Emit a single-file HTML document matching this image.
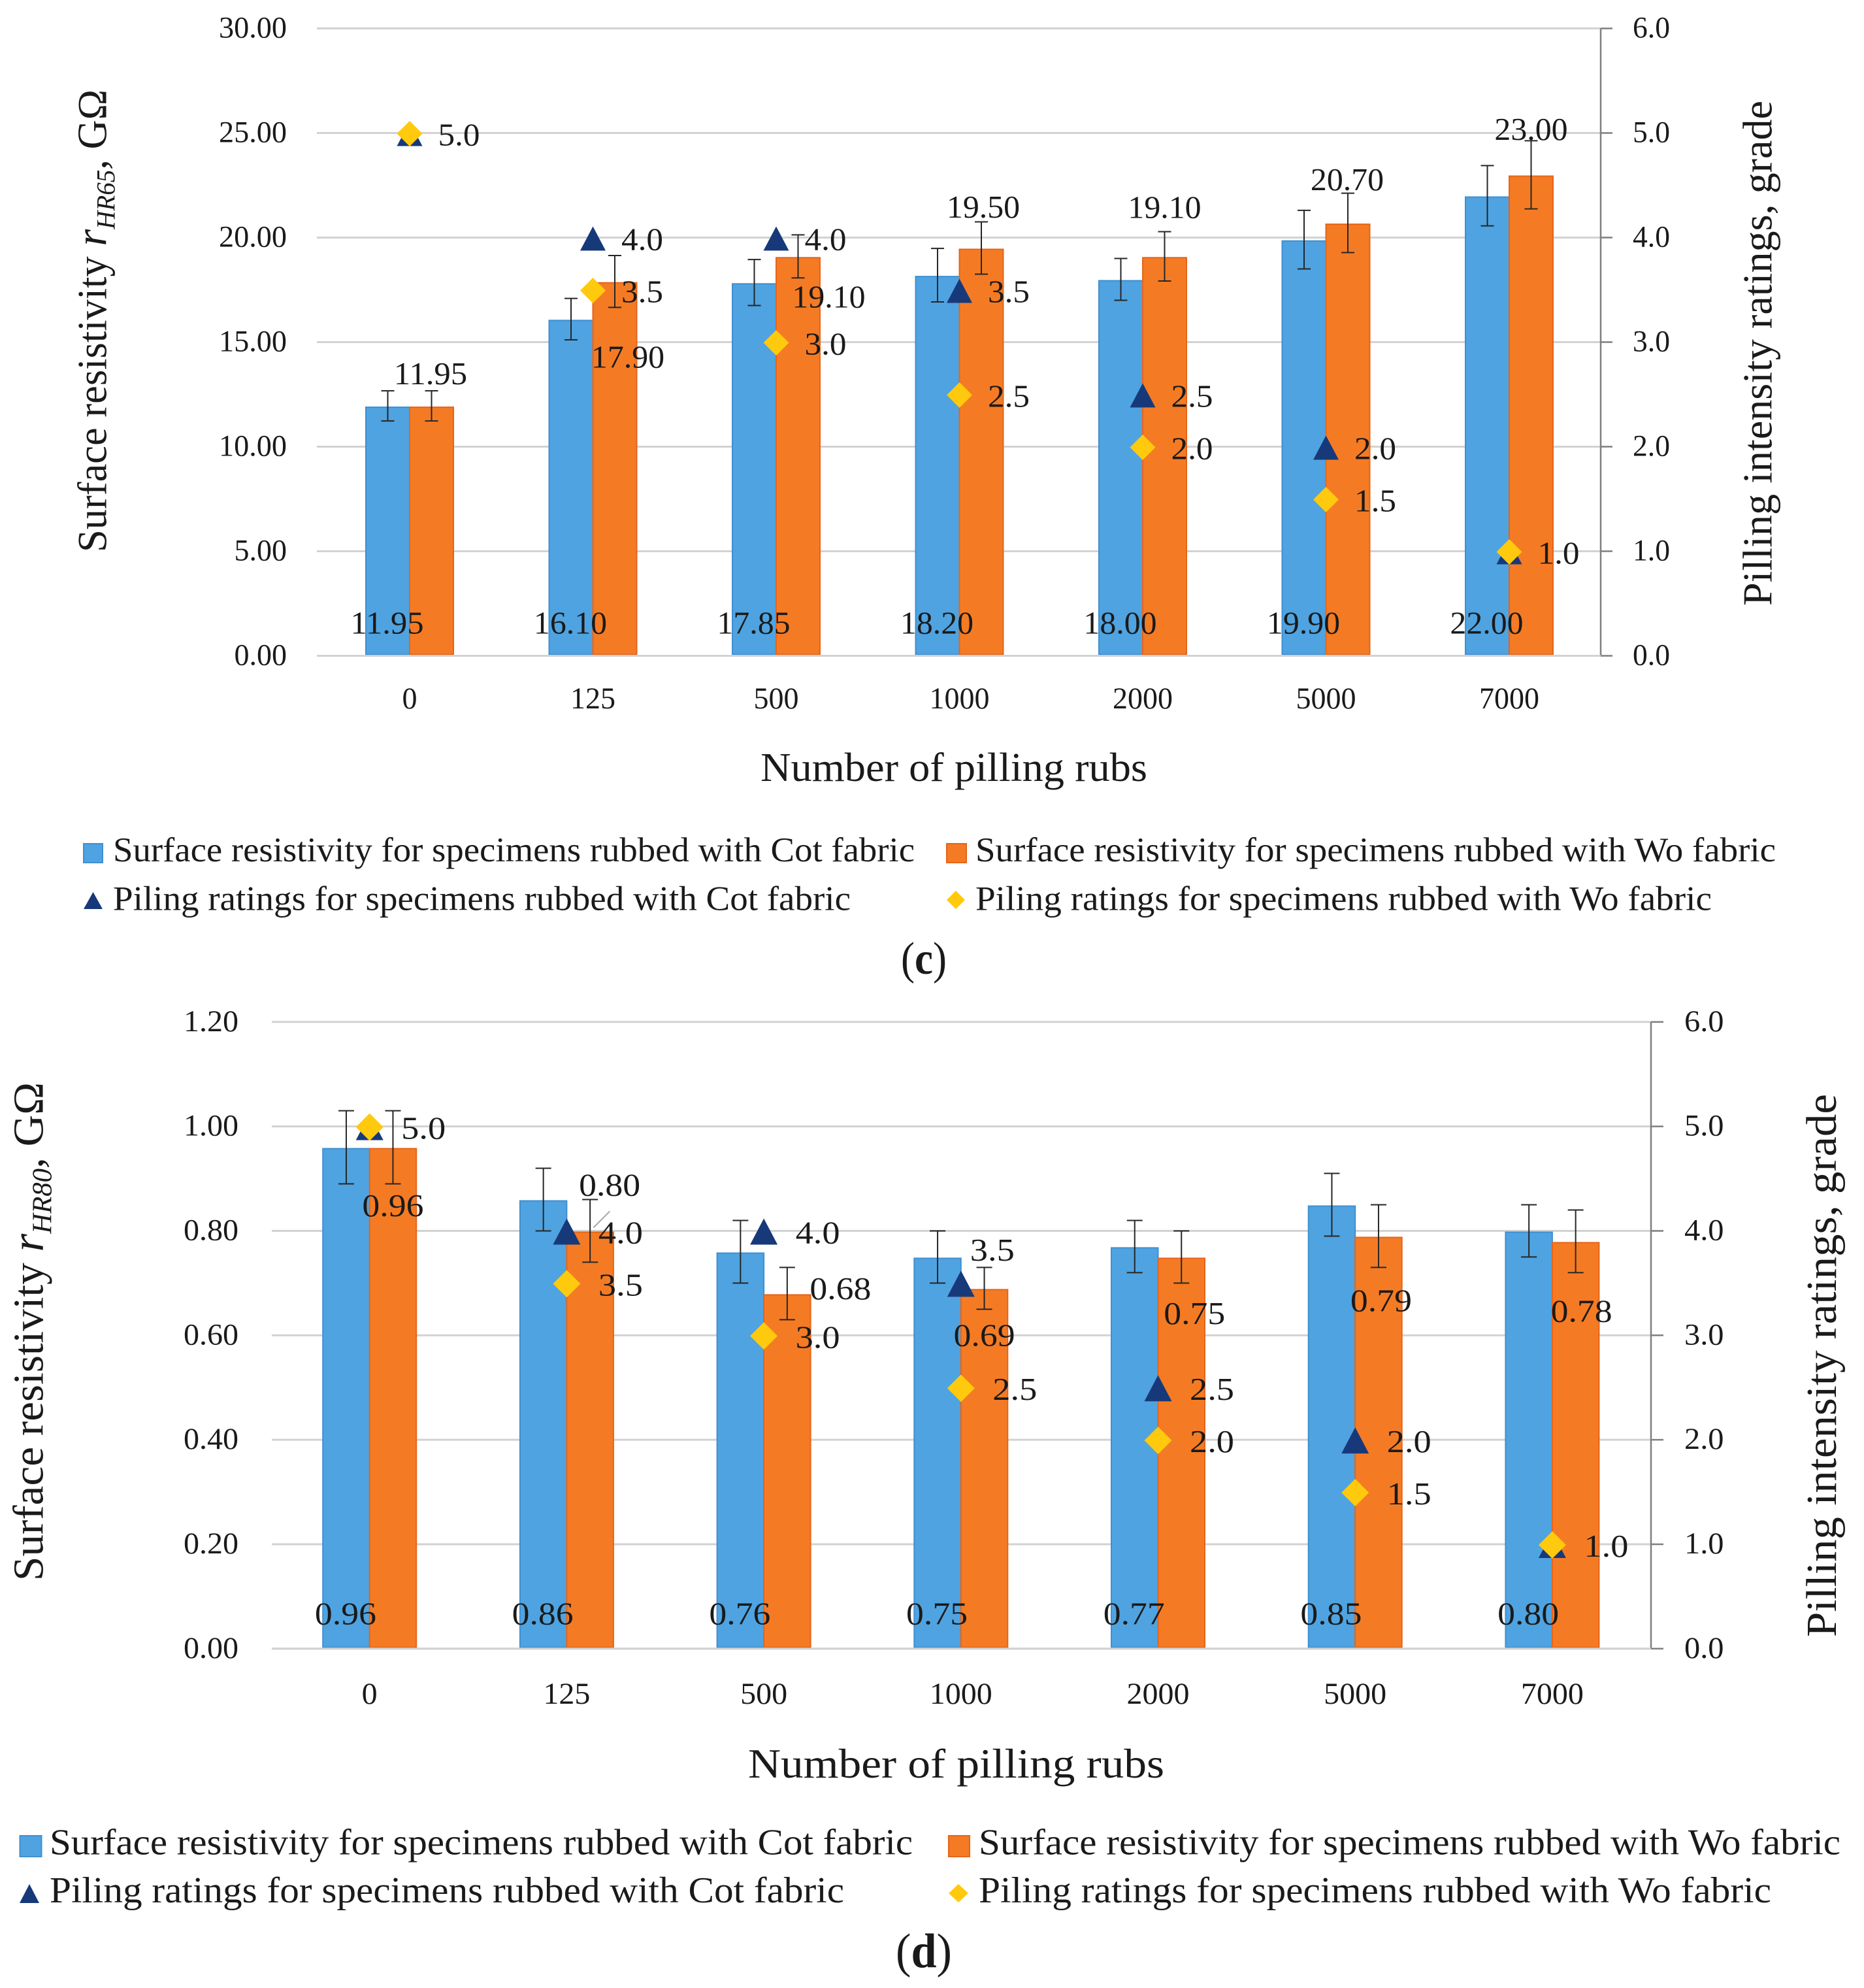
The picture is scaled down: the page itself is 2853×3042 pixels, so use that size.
<!DOCTYPE html>
<html lang="en">
<head>
<meta charset="utf-8">
<title>Surface resistivity and pilling ratings</title>
<style>
html,body{margin:0;padding:0;background:#fff;}
svg{display:block;}
text{font-family:"Liberation Serif","DejaVu Serif",serif;fill:#1a1a1a;}
</style>
</head>
<body>
<svg id="figure" xmlns="http://www.w3.org/2000/svg" width="2853" height="3042" viewBox="0 0 2853 3042">
  <rect x="0" y="0" width="2853" height="3042" fill="#ffffff"/>
  <g id="chart-c"></g>
  <g id="chart-d"></g>

  <!-- chart c static text -->
  <text transform="translate(162.5 845) rotate(-90)" font-size="64" textLength="708" lengthAdjust="spacingAndGlyphs">Surface resistivity <tspan font-style="italic" font-size="68">r</tspan><tspan font-style="italic" font-size="40" dy="13">HR65</tspan><tspan font-style="italic" dy="-13">,</tspan> GΩ</text>
  <text transform="translate(2711.5 927) rotate(-90)" font-size="64" textLength="773" lengthAdjust="spacingAndGlyphs">Pilling intensity ratings, grade</text>
  <text x="1164" y="1195" font-size="62" textLength="592" lengthAdjust="spacingAndGlyphs">Number of pilling rubs</text>

  <rect x="128" y="1291" width="29" height="29" fill="#4FA3E0" stroke="#3F8FD2" stroke-width="2"/>
  <text x="173" y="1318" font-size="53" textLength="1227" lengthAdjust="spacingAndGlyphs">Surface resistivity for specimens rubbed with Cot fabric</text>
  <rect x="1449" y="1291" width="30" height="29" fill="#F47B24" stroke="#E5641B" stroke-width="2"/>
  <text x="1493" y="1318" font-size="53" textLength="1225" lengthAdjust="spacingAndGlyphs">Surface resistivity for specimens rubbed with Wo fabric</text>
  <polygon points="142.5,1365 157,1391 128,1391" fill="#17397A"/>
  <text x="173" y="1392.5" font-size="53" textLength="1129" lengthAdjust="spacingAndGlyphs">Piling ratings for specimens rubbed with Cot fabric</text>
  <polygon points="1463,1363 1477,1377 1463,1391 1449,1377" fill="#FFC90D"/>
  <text x="1493" y="1392.5" font-size="53" textLength="1127" lengthAdjust="spacingAndGlyphs">Piling ratings for specimens rubbed with Wo fabric</text>
  <text x="1379" y="1490" font-size="70" textLength="70" lengthAdjust="spacingAndGlyphs">(<tspan font-weight="bold">c</tspan>)</text>

  <!-- chart d static text -->
  <text transform="translate(65.5 2419) rotate(-90)" font-size="66" textLength="763" lengthAdjust="spacingAndGlyphs">Surface resistivity <tspan font-style="italic" font-size="70">r</tspan><tspan font-style="italic" font-size="42" dy="13">HR80</tspan><tspan font-style="italic" dy="-13">,</tspan> GΩ</text>
  <text transform="translate(2810 2505) rotate(-90)" font-size="66" textLength="831" lengthAdjust="spacingAndGlyphs">Pilling intensity ratings, grade</text>
  <text x="1145" y="2720" font-size="64" textLength="637" lengthAdjust="spacingAndGlyphs">Number of pilling rubs</text>

  <rect x="30.5" y="2809" width="33" height="32" fill="#4FA3E0" stroke="#3F8FD2" stroke-width="2"/>
  <text x="76" y="2837.5" font-size="56" textLength="1321" lengthAdjust="spacingAndGlyphs">Surface resistivity for specimens rubbed with Cot fabric</text>
  <rect x="1452" y="2809" width="32" height="32" fill="#F47B24" stroke="#E5641B" stroke-width="2"/>
  <text x="1498" y="2837.5" font-size="56" textLength="1319" lengthAdjust="spacingAndGlyphs">Surface resistivity for specimens rubbed with Wo fabric</text>
  <polygon points="45,2883 60,2912 30,2912" fill="#17397A"/>
  <text x="76" y="2911" font-size="56" textLength="1216" lengthAdjust="spacingAndGlyphs">Piling ratings for specimens rubbed with Cot fabric</text>
  <polygon points="1467,2883 1482,2897 1467,2911 1452,2897" fill="#FFC90D"/>
  <text x="1498" y="2911" font-size="56" textLength="1213" lengthAdjust="spacingAndGlyphs">Piling ratings for specimens rubbed with Wo fabric</text>
  <text x="1371" y="3010" font-size="74" textLength="86" lengthAdjust="spacingAndGlyphs">(<tspan font-weight="bold">d</tspan>)</text>
</svg>

<script>
// ---- data ----
const categories = ['0', '125', '500', '1000', '2000', '5000', '7000'];
const pillingCot = [5.0, 4.0, 4.0, 3.5, 2.5, 2.0, 1.0];
const pillingWo = [5.0, 3.5, 3.0, 2.5, 2.0, 1.5, 1.0];
const rightTicks = [0, 1, 2, 3, 4, 5, 6];

const leftTicksC = [0, 5, 10, 15, 20, 25, 30];
const resistivityCotC = [11.95, 16.10, 17.85, 18.20, 18.00, 19.90, 22.00];
const resistivityWoC = [11.95, 17.90, 19.10, 19.50, 19.10, 20.70, 23.00];
const errorCotC = [0.72, 0.99, 1.10, 1.28, 1.00, 1.40, 1.44];
const errorWoC = [0.72, 1.24, 1.03, 1.25, 1.18, 1.42, 1.63];

const leftTicksD = [0, 0.2, 0.4, 0.6, 0.8, 1.0, 1.2];
const resistivityCotD = [0.96, 0.86, 0.76, 0.75, 0.77, 0.85, 0.80];
const resistivityWoD = [0.96, 0.80, 0.68, 0.69, 0.75, 0.79, 0.78];
const errorCotD = [0.07, 0.06, 0.06, 0.05, 0.05, 0.06, 0.05];
const errorWoD = [0.07, 0.06, 0.05, 0.04, 0.05, 0.06, 0.06];

// ---- label placement, relative to each bar (not data) ----
const woLabelDxC = [-1.5, 20, 47, 3, 0, -1, 0];
const woLabelDyC = [-33, 132, 78, -46.5, -59, -50, -53.5];
const woLabelDxD = [0, 30, 81.5, 0, 20, 4, 9];
const woLabelDyD = [105.5, -54, 8.5, 88, 102.5, 115, 123];

const NS = 'http://www.w3.org/2000/svg';

function make(parent, tag, name, attrs) {
  const el = document.createElementNS(NS, tag);
  
  
  for (const key in attrs) {
    el.setAttribute(key, attrs[key]);
  }
  parent.appendChild(el);
  return el;
}

function textWidth(str, metric) {
  let w = 0;
  for (const ch of str) {
    w += ch === '.' ? metric.dot : metric.digit;
  }
  return w;
}

function addText(parent, name, str, x, y, size, metric, anchor) {
  const len = textWidth(str, metric);
  let startX = x;
  if (anchor === 'middle') {
    startX = x - len / 2;
  }
  if (anchor === 'end') {
    startX = x - len;
  }
  const el = make(parent, 'text', name, {
    x: startX,
    y: y,
    'font-size': size,
    textLength: len,
    lengthAdjust: 'spacingAndGlyphs'
  });
  el.textContent = str;
  return el;
}

function drawChart(cfg) {
  const root = document.getElementById(cfg.id);
  const prefix = cfg.id;
  const xCat = i => cfg.catFirst + i * cfg.catStep;
  const yLeft = v => cfg.bottom - (v / cfg.leftMax) * (cfg.bottom - cfg.top);
  const yRight = v => cfg.bottom - (v / 6) * (cfg.bottom - cfg.top);

  // bars first, gridlines stay visible only at the baseline
  cfg.leftTicks.forEach(function (t) {
    const y = yLeft(t);
    make(root, 'line', prefix + '-gridline', { x1: cfg.left, x2: cfg.right, y1: y, y2: y, stroke: '#D2D2D2', 'stroke-width': 3 });
    addText(root, prefix + '-left-tick-label', t.toFixed(2), cfg.leftLabelX, y + cfg.tickBaseline, cfg.tickSize, cfg.tickMetric, 'end');
  });

  make(root, 'line', prefix + '-right-axis', { x1: cfg.right, x2: cfg.right, y1: cfg.top, y2: cfg.bottom, stroke: '#7F7F7F', 'stroke-width': 2.5 });
  rightTicks.forEach(function (t) {
    const y = yRight(t);
    make(root, 'line', prefix + '-right-tick', { x1: cfg.right, x2: cfg.right + cfg.tickLen, y1: y, y2: y, stroke: '#7F7F7F', 'stroke-width': 2.5 });
    addText(root, prefix + '-right-tick-label', t.toFixed(1), cfg.rightLabelX, y + cfg.tickBaseline, cfg.tickSize, cfg.rightMetric, 'start');
  });

  categories.forEach(function (c, i) {
    const cx = xCat(i);
    const w = cfg.barWidth;
    const yBase = cfg.bottom - 2;
    const yc = yLeft(cfg.cot[i]) + 2;
    const yw = yLeft(cfg.wo[i]) + 2;

    make(root, 'rect', prefix + '-bar-cot-' + c, { x: cx - w, y: yc, width: w, height: yBase - yc, fill: '#4FA3E0', stroke: '#3F8FD2', 'stroke-width': 2 });
    make(root, 'rect', prefix + '-bar-wo-' + c, { x: cx, y: yw, width: w, height: yBase - yw, fill: '#F47B24', stroke: '#E5641B', 'stroke-width': 2 });

    addText(root, prefix + '-category-label', c, cx, cfg.catBaseline, cfg.tickSize, cfg.catMetric, 'middle');
  });

  make(root, 'line', prefix + '-baseline', { x1: cfg.left, x2: cfg.right, y1: cfg.bottom, y2: cfg.bottom, stroke: '#D2D2D2', 'stroke-width': 3 });

  categories.forEach(function (c, i) {
    const cx = xCat(i);
    const w = cfg.barWidth;
    const errs = [
      { x: cx - w / 2, v: cfg.cot[i], e: cfg.errCot[i], n: 'cot' },
      { x: cx + w / 2, v: cfg.wo[i], e: cfg.errWo[i], n: 'wo' }
    ];
    errs.forEach(function (b) {
      const y1 = yLeft(b.v + b.e);
      const y2 = yLeft(b.v - b.e);
      const d = 'M' + b.x + ' ' + y1 + 'V' + y2 +
        'M' + (b.x - cfg.capHalf) + ' ' + y1 + 'H' + (b.x + cfg.capHalf) +
        'M' + (b.x - cfg.capHalf) + ' ' + y2 + 'H' + (b.x + cfg.capHalf);
      make(root, 'path', prefix + '-error-bar-' + b.n + '-' + c, { d: d, stroke: '#262626', 'stroke-width': 2, fill: 'none' });
    });
  });

  categories.forEach(function (c, i) {
    const cx = xCat(i);
    const yt = yRight(pillingCot[i]);
    const yd = yRight(pillingWo[i]) + 1;
    const h = cfg.markerHalf;
    const triPts = cx + ',' + (yt - cfg.triUp) + ' ' + (cx + h) + ',' + (yt + cfg.triDown) + ' ' + (cx - h) + ',' + (yt + cfg.triDown);
    make(root, 'polygon', prefix + '-marker-cot-' + c, { points: triPts, fill: '#17397A' });
    const diaPts = cx + ',' + (yd - h) + ' ' + (cx + h) + ',' + yd + ' ' + cx + ',' + (yd + h) + ' ' + (cx - h) + ',' + yd;
    make(root, 'polygon', prefix + '-marker-wo-' + c, { points: diaPts, fill: '#FFC90D' });
  });

  categories.forEach(function (c, i) {
    const cx = xCat(i);
    const w = cfg.barWidth;
    addText(root, prefix + '-value-label-cot-' + c, cfg.cot[i].toFixed(2), cx - w / 2 - 1, cfg.cotLabelBaseline, cfg.dataSize, cfg.dataMetric, 'middle');
    addText(root, prefix + '-value-label-wo-' + c, cfg.wo[i].toFixed(2), cx + w / 2 + cfg.woDx[i], yLeft(cfg.wo[i]) + cfg.woDy[i], cfg.dataSize, cfg.dataMetric, 'middle');

    const isLiftedLabel = cfg.liftCotLabelAt === i;
    const cotX = isLiftedLabel ? cx + 14 : cx + cfg.markLabelDx;
    const cotY = isLiftedLabel ? yRight(pillingCot[i]) - 34.5 : yRight(pillingCot[i]) + 19;
    addText(root, prefix + '-rating-label-cot-' + c, pillingCot[i].toFixed(1), cotX, cotY, cfg.dataSize, cfg.markMetric, 'start');
    if (pillingWo[i] !== pillingCot[i]) {
      addText(root, prefix + '-rating-label-wo-' + c, pillingWo[i].toFixed(1), cx + cfg.markLabelDx, yRight(pillingWo[i]) + 19, cfg.dataSize, cfg.markMetric, 'start');
    }
  });

  if (cfg.leader) {
    const i = cfg.leader;
    const x0 = xCat(i) + 41;
    const y0 = yLeft(cfg.wo[i]) - 5;
    make(root, 'line', prefix + '-label-leader-line', { x1: x0, y1: y0, x2: x0 + 25, y2: y0 - 25, stroke: '#A6A6A6', 'stroke-width': 2 });
  }
}

drawChart({
  id: 'chart-c', top: 43.5, bottom: 1003.5, left: 485, right: 2450, leftMax: 30,
  catFirst: 627, catStep: 280.5, barWidth: 67, capHalf: 10,
  leftTicks: leftTicksC, cot: resistivityCotC, wo: resistivityWoC, errCot: errorCotC, errWo: errorWoC,
  woDx: woLabelDxC, woDy: woLabelDyC,
  leftLabelX: 439, rightLabelX: 2499, tickLen: 18, tickBaseline: 14, catBaseline: 1084,
  cotLabelBaseline: 969.5, tickSize: 47, dataSize: 49,
  tickMetric: { digit: 23.5, dot: 10 }, rightMetric: { digit: 23.5, dot: 10 },
  catMetric: { digit: 23, dot: 10 }, dataMetric: { digit: 25.3, dot: 11 }, markMetric: { digit: 26.5, dot: 11 },
  markLabelDx: 43.5, markerHalf: 19.5, triUp: 17, triDown: 20, liftCotLabelAt: -1, leader: 0
});

drawChart({
  id: 'chart-d', top: 1563.8, bottom: 2522.8, left: 416, right: 2527, leftMax: 1.2,
  catFirst: 565.7, catStep: 301.7, barWidth: 71.5, capHalf: 12,
  leftTicks: leftTicksD, cot: resistivityCotD, wo: resistivityWoD, errCot: errorCotD, errWo: errorWoD,
  woDx: woLabelDxD, woDy: woLabelDyD,
  leftLabelX: 365, rightLabelX: 2578, tickLen: 19, tickBaseline: 14, catBaseline: 2607,
  cotLabelBaseline: 2485.6, tickSize: 47, dataSize: 49,
  tickMetric: { digit: 24.5, dot: 10.5 }, rightMetric: { digit: 25, dot: 10.5 },
  catMetric: { digit: 24, dot: 10 }, dataMetric: { digit: 27, dot: 13 }, markMetric: { digit: 28, dot: 12 },
  markLabelDx: 48.5, markerHalf: 21, triUp: 19, triDown: 21, liftCotLabelAt: 3, leader: 1
});
</script>
</body>
</html>
